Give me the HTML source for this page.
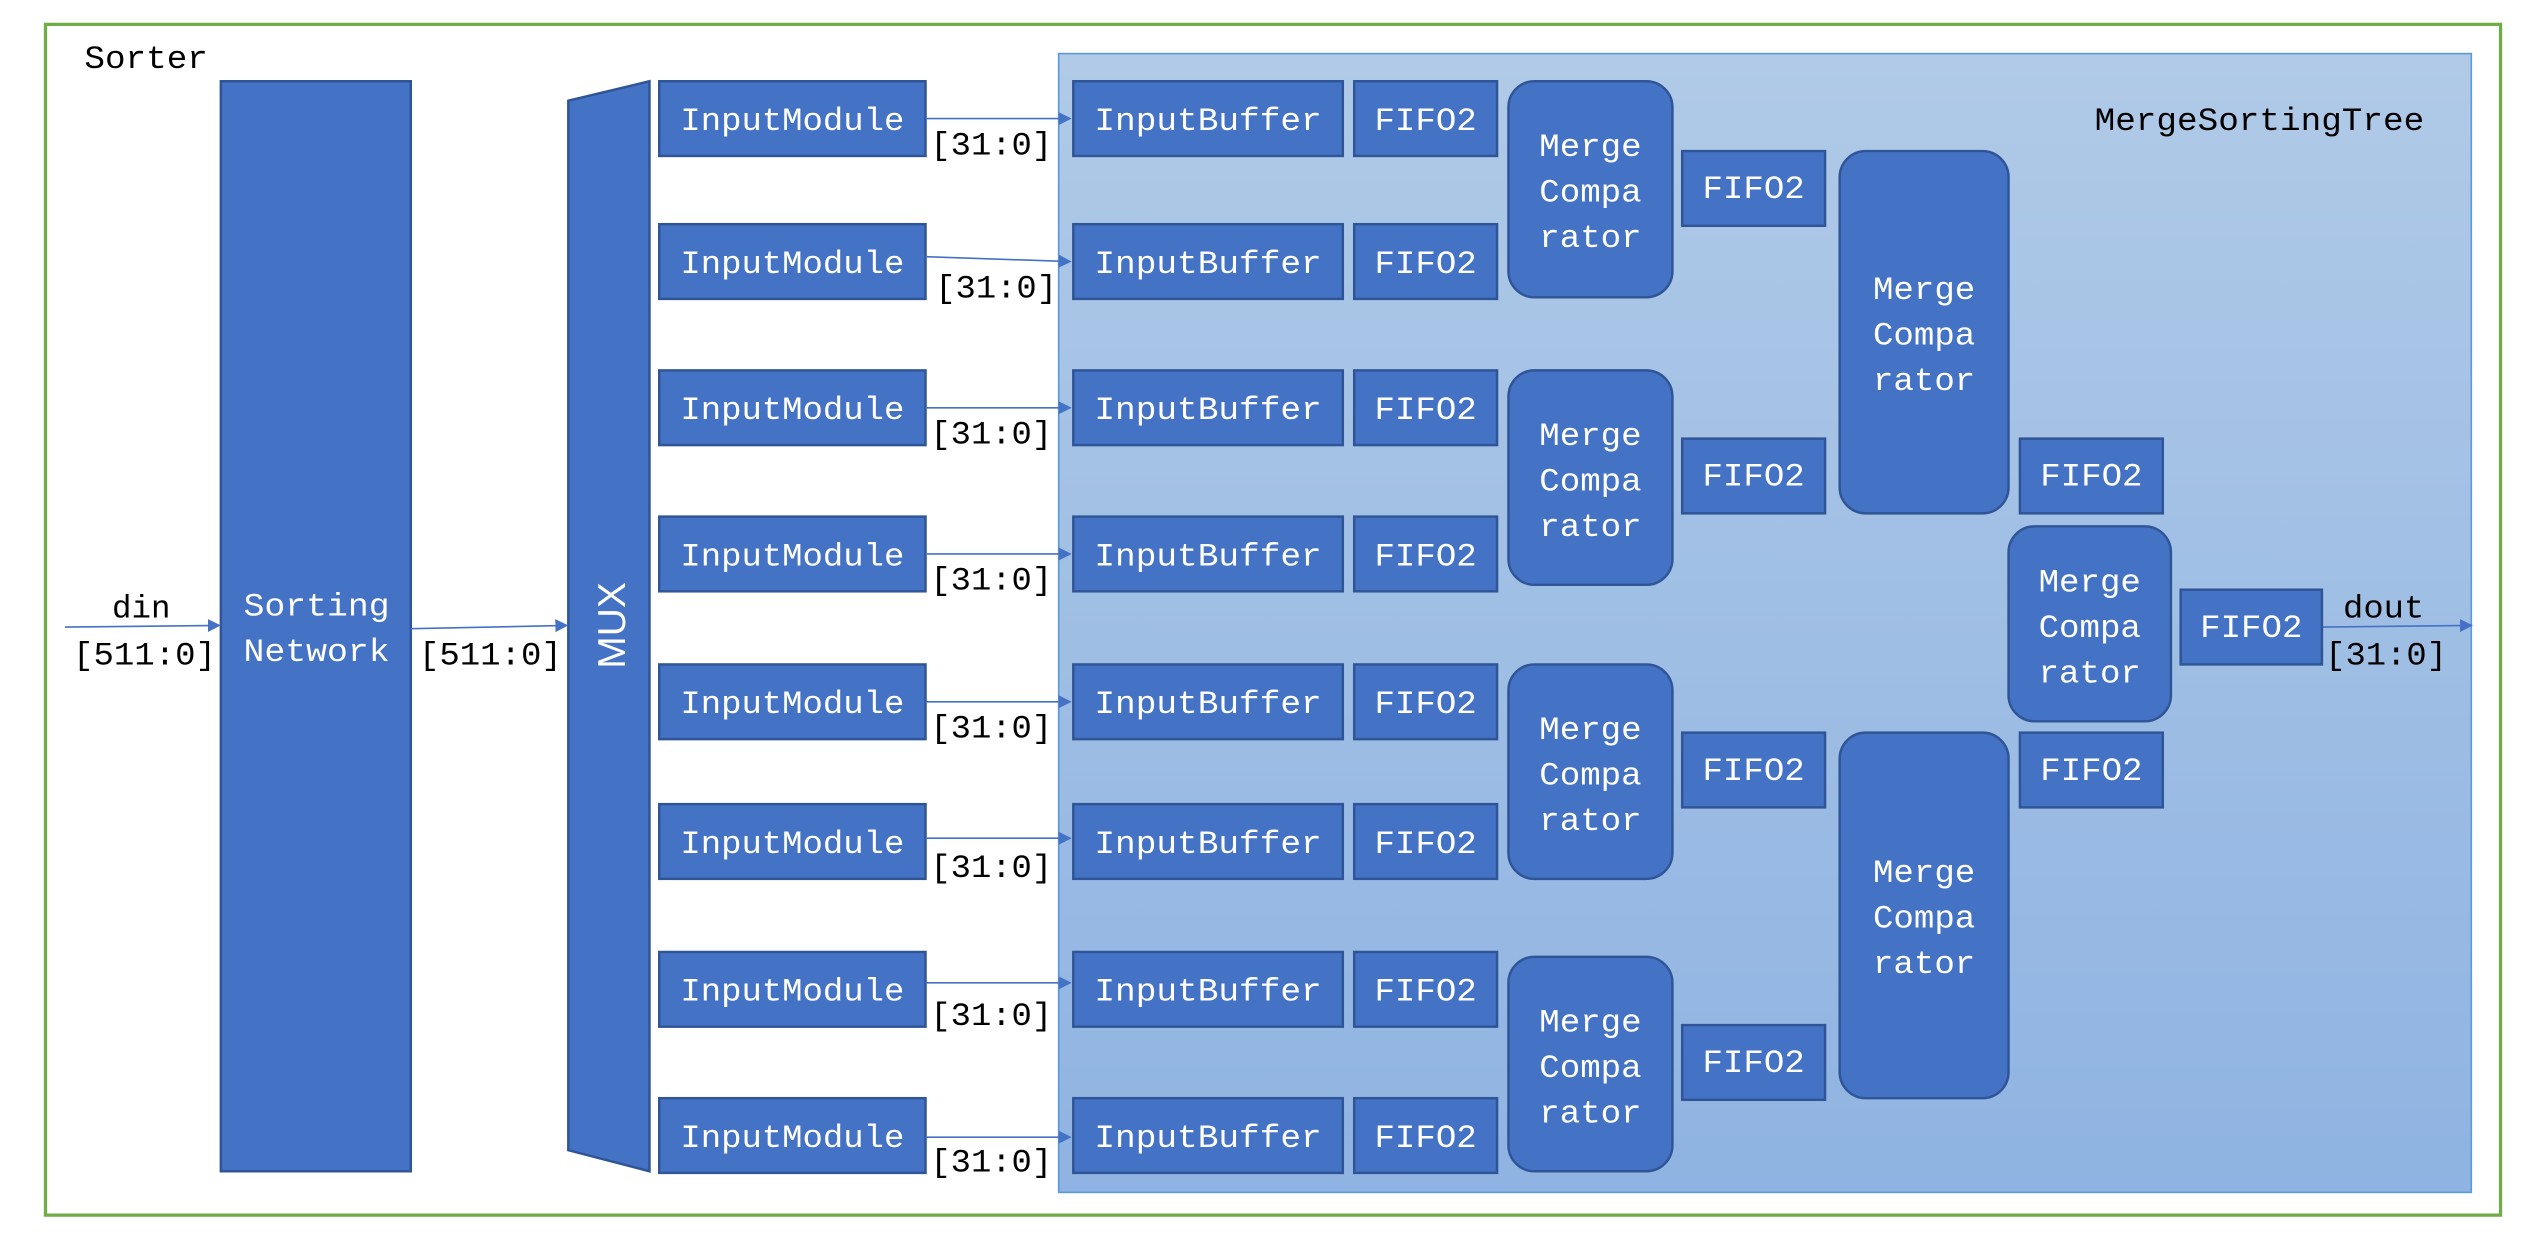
<!DOCTYPE html>
<html><head><meta charset="utf-8"><style>html,body{margin:0;padding:0;background:#fff}svg{display:block}
.b{fill:#4472c4;stroke:#2f5597;stroke-width:1.5}
.w{fill:#fff;font-size:20px}
.k{fill:#000;font-size:20px}
.l{stroke:#4472c4;stroke-width:1}
</style></head>
<body>
<svg width="2546" height="1246" viewBox="0 0 1568 767" preserveAspectRatio="none" xmlns="http://www.w3.org/2000/svg" font-family="Liberation Mono, monospace">
<defs>
<linearGradient id="g" x1="0" y1="0" x2="0" y2="1"><stop offset="0" stop-color="#b0cae7"/><stop offset="1" stop-color="#8fb3e2"/></linearGradient>
<marker id="a" markerWidth="8" markerHeight="8" refX="7" refY="4" orient="auto" markerUnits="userSpaceOnUse"><path d="M0,0 L8,4 L0,8 z" fill="#4472c4"/></marker>
</defs>
<rect x="28" y="15" width="1512" height="733" fill="#fff" stroke="#70ad47" stroke-width="2"/>
<text class="k" x="52" y="42" textLength="76" lengthAdjust="spacingAndGlyphs">Sorter</text>
<rect x="652" y="33" width="870" height="701" fill="url(#g)" stroke="#5b9bd5" stroke-width="1"/>
<text class="k" x="1290" y="80" textLength="203" lengthAdjust="spacingAndGlyphs">MergeSortingTree</text>
<rect class="b" x="136" y="50" width="117" height="671"/>
<path class="b" d="M350,62 L400,50 L400,721 L350,708 z"/>
<text class="w" x="195" y="379" text-anchor="middle" textLength="90" lengthAdjust="spacingAndGlyphs">Sorting</text>
<text class="w" x="195" y="407" text-anchor="middle" textLength="90" lengthAdjust="spacingAndGlyphs">Network</text>
<text transform="translate(385,385) rotate(-90)" text-anchor="middle" font-family="Liberation Sans, sans-serif" font-size="24" fill="#fff">MUX</text>
<g class="l" marker-end="url(#a)">
<line class="l" x1="40" y1="386" x2="135" y2="385" marker-end="url(#a)"/>
<line class="l" x1="253" y1="387" x2="349" y2="385" marker-end="url(#a)"/>
<line class="l" x1="1430" y1="386" x2="1522" y2="385" marker-end="url(#a)"/>
</g>
<text class="k" x="87" y="380" text-anchor="middle" textLength="36" lengthAdjust="spacingAndGlyphs">din</text>
<text class="k" x="45" y="409" textLength="88" lengthAdjust="spacingAndGlyphs">[511:0]</text>
<text class="k" x="258" y="409" textLength="88" lengthAdjust="spacingAndGlyphs">[511:0]</text>
<text class="k" x="1468" y="380" text-anchor="middle" textLength="50" lengthAdjust="spacingAndGlyphs">dout</text>
<text class="k" x="1432" y="409" textLength="75" lengthAdjust="spacingAndGlyphs">[31:0]</text>

<!-- rows -->
<g>
<rect class="b" x="406" y="50" width="164" height="46"/><text class="w" x="488" y="80" text-anchor="middle" textLength="138" lengthAdjust="spacingAndGlyphs">InputModule</text>
<line class="l" x1="570" y1="73" x2="659" y2="73" marker-end="url(#a)"/><text class="k" x="573" y="95" textLength="75" lengthAdjust="spacingAndGlyphs">[31:0]</text>
<rect class="b" x="661" y="50" width="166" height="46"/><text class="w" x="744" y="80" text-anchor="middle" textLength="140" lengthAdjust="spacingAndGlyphs">InputBuffer</text>
<rect class="b" x="834" y="50" width="88" height="46"/><text class="w" x="878" y="80" text-anchor="middle" textLength="63" lengthAdjust="spacingAndGlyphs">FIFO2</text>

<rect class="b" x="406" y="138" width="164" height="46"/><text class="w" x="488" y="168" text-anchor="middle" textLength="138" lengthAdjust="spacingAndGlyphs">InputModule</text>
<line class="l" x1="570" y1="158" x2="659" y2="161" marker-end="url(#a)"/><text class="k" x="576" y="183" textLength="75" lengthAdjust="spacingAndGlyphs">[31:0]</text>
<rect class="b" x="661" y="138" width="166" height="46"/><text class="w" x="744" y="168" text-anchor="middle" textLength="140" lengthAdjust="spacingAndGlyphs">InputBuffer</text>
<rect class="b" x="834" y="138" width="88" height="46"/><text class="w" x="878" y="168" text-anchor="middle" textLength="63" lengthAdjust="spacingAndGlyphs">FIFO2</text>

<rect class="b" x="406" y="228" width="164" height="46"/><text class="w" x="488" y="258" text-anchor="middle" textLength="138" lengthAdjust="spacingAndGlyphs">InputModule</text>
<line class="l" x1="570" y1="251" x2="659" y2="251" marker-end="url(#a)"/><text class="k" x="573" y="273" textLength="75" lengthAdjust="spacingAndGlyphs">[31:0]</text>
<rect class="b" x="661" y="228" width="166" height="46"/><text class="w" x="744" y="258" text-anchor="middle" textLength="140" lengthAdjust="spacingAndGlyphs">InputBuffer</text>
<rect class="b" x="834" y="228" width="88" height="46"/><text class="w" x="878" y="258" text-anchor="middle" textLength="63" lengthAdjust="spacingAndGlyphs">FIFO2</text>

<rect class="b" x="406" y="318" width="164" height="46"/><text class="w" x="488" y="348" text-anchor="middle" textLength="138" lengthAdjust="spacingAndGlyphs">InputModule</text>
<line class="l" x1="570" y1="341" x2="659" y2="341" marker-end="url(#a)"/><text class="k" x="573" y="363" textLength="75" lengthAdjust="spacingAndGlyphs">[31:0]</text>
<rect class="b" x="661" y="318" width="166" height="46"/><text class="w" x="744" y="348" text-anchor="middle" textLength="140" lengthAdjust="spacingAndGlyphs">InputBuffer</text>
<rect class="b" x="834" y="318" width="88" height="46"/><text class="w" x="878" y="348" text-anchor="middle" textLength="63" lengthAdjust="spacingAndGlyphs">FIFO2</text>

<rect class="b" x="406" y="409" width="164" height="46"/><text class="w" x="488" y="439" text-anchor="middle" textLength="138" lengthAdjust="spacingAndGlyphs">InputModule</text>
<line class="l" x1="570" y1="432" x2="659" y2="432" marker-end="url(#a)"/><text class="k" x="573" y="454" textLength="75" lengthAdjust="spacingAndGlyphs">[31:0]</text>
<rect class="b" x="661" y="409" width="166" height="46"/><text class="w" x="744" y="439" text-anchor="middle" textLength="140" lengthAdjust="spacingAndGlyphs">InputBuffer</text>
<rect class="b" x="834" y="409" width="88" height="46"/><text class="w" x="878" y="439" text-anchor="middle" textLength="63" lengthAdjust="spacingAndGlyphs">FIFO2</text>

<rect class="b" x="406" y="495" width="164" height="46"/><text class="w" x="488" y="525" text-anchor="middle" textLength="138" lengthAdjust="spacingAndGlyphs">InputModule</text>
<line class="l" x1="570" y1="516" x2="659" y2="516" marker-end="url(#a)"/><text class="k" x="573" y="540" textLength="75" lengthAdjust="spacingAndGlyphs">[31:0]</text>
<rect class="b" x="661" y="495" width="166" height="46"/><text class="w" x="744" y="525" text-anchor="middle" textLength="140" lengthAdjust="spacingAndGlyphs">InputBuffer</text>
<rect class="b" x="834" y="495" width="88" height="46"/><text class="w" x="878" y="525" text-anchor="middle" textLength="63" lengthAdjust="spacingAndGlyphs">FIFO2</text>

<rect class="b" x="406" y="586" width="164" height="46"/><text class="w" x="488" y="616" text-anchor="middle" textLength="138" lengthAdjust="spacingAndGlyphs">InputModule</text>
<line class="l" x1="570" y1="605" x2="659" y2="605" marker-end="url(#a)"/><text class="k" x="573" y="631" textLength="75" lengthAdjust="spacingAndGlyphs">[31:0]</text>
<rect class="b" x="661" y="586" width="166" height="46"/><text class="w" x="744" y="616" text-anchor="middle" textLength="140" lengthAdjust="spacingAndGlyphs">InputBuffer</text>
<rect class="b" x="834" y="586" width="88" height="46"/><text class="w" x="878" y="616" text-anchor="middle" textLength="63" lengthAdjust="spacingAndGlyphs">FIFO2</text>

<rect class="b" x="406" y="676" width="164" height="46"/><text class="w" x="488" y="706" text-anchor="middle" textLength="138" lengthAdjust="spacingAndGlyphs">InputModule</text>
<line class="l" x1="570" y1="700" x2="659" y2="700" marker-end="url(#a)"/><text class="k" x="573" y="721" textLength="75" lengthAdjust="spacingAndGlyphs">[31:0]</text>
<rect class="b" x="661" y="676" width="166" height="46"/><text class="w" x="744" y="706" text-anchor="middle" textLength="140" lengthAdjust="spacingAndGlyphs">InputBuffer</text>
<rect class="b" x="834" y="676" width="88" height="46"/><text class="w" x="878" y="706" text-anchor="middle" textLength="63" lengthAdjust="spacingAndGlyphs">FIFO2</text>
</g>

<!-- merge comparators -->
<g>
<rect class="b" x="929" y="50" width="101" height="133" rx="16"/>
<text class="w" x="979.5" y="96" text-anchor="middle" textLength="63" lengthAdjust="spacingAndGlyphs">Merge</text>
<text class="w" x="979.5" y="124" text-anchor="middle" textLength="63" lengthAdjust="spacingAndGlyphs">Compa</text>
<text class="w" x="979.5" y="152" text-anchor="middle" textLength="63" lengthAdjust="spacingAndGlyphs">rator</text>

<rect class="b" x="929" y="228" width="101" height="132" rx="16"/>
<text class="w" x="979.5" y="274" text-anchor="middle" textLength="63" lengthAdjust="spacingAndGlyphs">Merge</text>
<text class="w" x="979.5" y="302" text-anchor="middle" textLength="63" lengthAdjust="spacingAndGlyphs">Compa</text>
<text class="w" x="979.5" y="330" text-anchor="middle" textLength="63" lengthAdjust="spacingAndGlyphs">rator</text>

<rect class="b" x="929" y="409" width="101" height="132" rx="16"/>
<text class="w" x="979.5" y="455" text-anchor="middle" textLength="63" lengthAdjust="spacingAndGlyphs">Merge</text>
<text class="w" x="979.5" y="483" text-anchor="middle" textLength="63" lengthAdjust="spacingAndGlyphs">Compa</text>
<text class="w" x="979.5" y="511" text-anchor="middle" textLength="63" lengthAdjust="spacingAndGlyphs">rator</text>

<rect class="b" x="929" y="589" width="101" height="132" rx="16"/>
<text class="w" x="979.5" y="635" text-anchor="middle" textLength="63" lengthAdjust="spacingAndGlyphs">Merge</text>
<text class="w" x="979.5" y="663" text-anchor="middle" textLength="63" lengthAdjust="spacingAndGlyphs">Compa</text>
<text class="w" x="979.5" y="691" text-anchor="middle" textLength="63" lengthAdjust="spacingAndGlyphs">rator</text>

<rect class="b" x="1133" y="93" width="104" height="223" rx="16"/>
<text class="w" x="1185" y="184" text-anchor="middle" textLength="63" lengthAdjust="spacingAndGlyphs">Merge</text>
<text class="w" x="1185" y="212" text-anchor="middle" textLength="63" lengthAdjust="spacingAndGlyphs">Compa</text>
<text class="w" x="1185" y="240" text-anchor="middle" textLength="63" lengthAdjust="spacingAndGlyphs">rator</text>

<rect class="b" x="1133" y="451" width="104" height="225" rx="16"/>
<text class="w" x="1185" y="543" text-anchor="middle" textLength="63" lengthAdjust="spacingAndGlyphs">Merge</text>
<text class="w" x="1185" y="571" text-anchor="middle" textLength="63" lengthAdjust="spacingAndGlyphs">Compa</text>
<text class="w" x="1185" y="599" text-anchor="middle" textLength="63" lengthAdjust="spacingAndGlyphs">rator</text>

<rect class="b" x="1237" y="324" width="100" height="120" rx="16"/>
<text class="w" x="1287" y="364" text-anchor="middle" textLength="63" lengthAdjust="spacingAndGlyphs">Merge</text>
<text class="w" x="1287" y="392" text-anchor="middle" textLength="63" lengthAdjust="spacingAndGlyphs">Compa</text>
<text class="w" x="1287" y="420" text-anchor="middle" textLength="63" lengthAdjust="spacingAndGlyphs">rator</text>
</g>

<!-- FIFOs -->
<g>
<rect class="b" x="1036" y="93" width="88" height="46"/><text class="w" x="1080" y="122" text-anchor="middle" textLength="63" lengthAdjust="spacingAndGlyphs">FIFO2</text>
<rect class="b" x="1036" y="270" width="88" height="46"/><text class="w" x="1080" y="299" text-anchor="middle" textLength="63" lengthAdjust="spacingAndGlyphs">FIFO2</text>
<rect class="b" x="1036" y="451" width="88" height="46"/><text class="w" x="1080" y="480" text-anchor="middle" textLength="63" lengthAdjust="spacingAndGlyphs">FIFO2</text>
<rect class="b" x="1036" y="631" width="88" height="46"/><text class="w" x="1080" y="660" text-anchor="middle" textLength="63" lengthAdjust="spacingAndGlyphs">FIFO2</text>
<rect class="b" x="1244" y="270" width="88" height="46"/><text class="w" x="1288" y="299" text-anchor="middle" textLength="63" lengthAdjust="spacingAndGlyphs">FIFO2</text>
<rect class="b" x="1244" y="451" width="88" height="46"/><text class="w" x="1288" y="480" text-anchor="middle" textLength="63" lengthAdjust="spacingAndGlyphs">FIFO2</text>
<rect class="b" x="1343" y="363" width="87" height="46"/><text class="w" x="1386.5" y="392" text-anchor="middle" textLength="63" lengthAdjust="spacingAndGlyphs">FIFO2</text>
</g>
</svg>
</body></html>
